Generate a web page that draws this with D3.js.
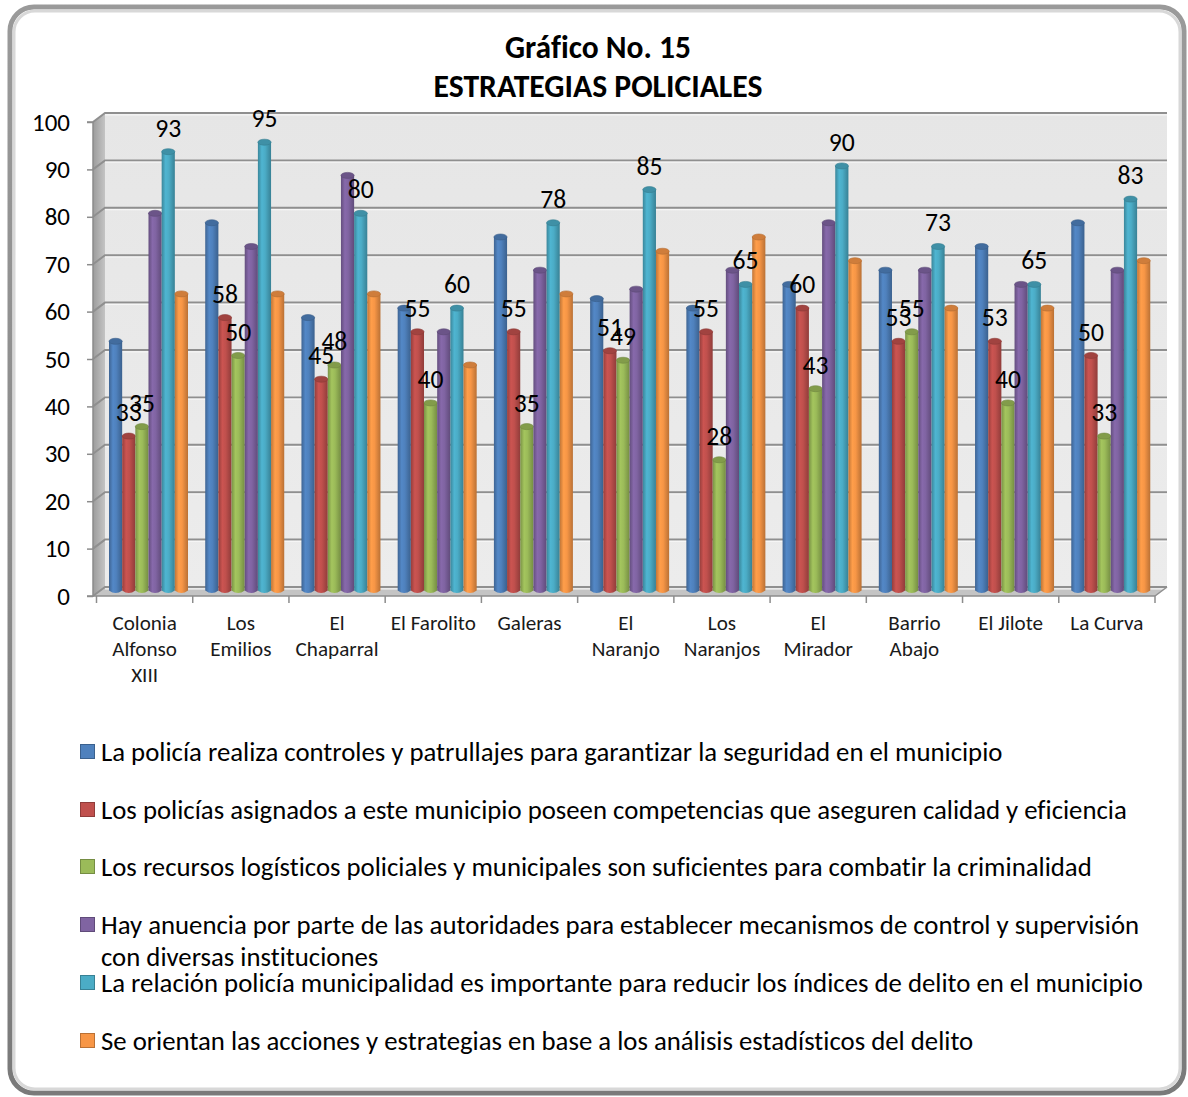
<!DOCTYPE html>
<html><head><meta charset="utf-8">
<script src="https://cdn.jsdelivr.net/npm/d3@7"></script>
<style>body{margin:0;background:#fff} text{font-variant-ligatures:none;font-feature-settings:"liga" 0,"clig" 0}</style></head>
<body>
<svg id="c" width="1188" height="1097"></svg>
<script>
// ---------- DATA ----------
const categories = ["Colonia\nAlfonso\nXIII", "Los\nEmilios", "El\nChaparral", "El Farolito", "Galeras",
  "El\nNaranjo", "Los\nNaranjos", "El\nMirador", "Barrio\nAbajo", "El Jilote", "La Curva"];
const seriesNames = [
  "La policía realiza controles y patrullajes para garantizar la seguridad en el municipio",
  "Los policías asignados a este municipio poseen competencias que aseguren calidad y eficiencia",
  "Los recursos logísticos policiales y municipales son suficientes para combatir la criminalidad",
  "Hay anuencia por parte de las autoridades para establecer mecanismos de control y supervisión\ncon diversas instituciones",
  "La relación policía municipalidad es importante para reducir los índices de delito en el municipio",
  "Se orientan las acciones y estrategias en base a los análisis estadísticos del delito"
];
const controles    = [53, 78, 58, 60, 75, 62, 60, 65, 68, 73, 78];
const competencias = [33, 58, 45, 55, 55, 51, 55, 60, 53, 53, 50];
const recursos     = [35, 50, 48, 40, 35, 49, 28, 43, 55, 40, 33];
const anuencia     = [80, 73, 88, 55, 68, 64, 68, 78, 68, 65, 68];
const relacion     = [93, 95, 80, 60, 78, 85, 65, 90, 73, 65, 83];
const orientan     = [63, 63, 63, 48, 63, 72, 75, 70, 60, 60, 70];
const seriesValues = [controles, competencias, recursos, anuencia, relacion, orientan];
const labeledSeries = [1, 2, 4];
const yTicks = [0, 10, 20, 30, 40, 50, 60, 70, 80, 90, 100];
const titleLines = ["Gráfico No. 15", "ESTRATEGIAS POLICIALES"];
const colors = ["#4F81BD", "#C0504D", "#9BBB59", "#8064A2", "#4BACC6", "#F79646"];

// ---------- SETUP ----------
const FONT = "Carlito, Calibri, Lato, 'Open Sans', sans-serif";
const svg = d3.select("#c");
const defs = svg.append("defs");

function fitSize(text, weight, target, base) {
  const t = svg.append("text").attr("font-family", FONT).attr("font-weight", weight)
    .attr("font-size", base).text(text);
  const w = t.node().getComputedTextLength();
  t.remove();
  return base * target / w;
}

// frame
const fg = defs.append("linearGradient").attr("id", "frameG").attr("x1", 0).attr("y1", 0).attr("x2", 0).attr("y2", 1);
fg.append("stop").attr("offset", 0).attr("stop-color", "#9a9a9a");
fg.append("stop").attr("offset", 1).attr("stop-color", "#7a7a7a");
svg.append("rect").attr("x", 10).attr("y", 7).attr("width", 1174).attr("height", 1086)
  .attr("rx", 24).attr("fill", "#fff").attr("stroke", "url(#frameG)").attr("stroke-width", 5);
svg.append("rect").attr("x", 14).attr("y", 11).attr("width", 1166).attr("height", 1078)
  .attr("rx", 21).attr("fill", "none").attr("stroke", "#d8d8d8").attr("stroke-width", 3);

// scales
const y = d3.scaleLinear().domain([0, 100]).range([596, 122]);
const x = d3.scaleBand().domain(categories).range([96.5, 1155]).padding(0);
const xs = d3.scaleBand().domain(d3.range(6)).range([12.5, 91.5]).padding(0);
const DX = 12, DY = -9;
const x0 = 93, x1 = 1155;

// walls
const lw = defs.append("linearGradient").attr("id", "leftW").attr("x1", 0).attr("x2", 1).attr("y1", 0).attr("y2", 0);
lw.append("stop").attr("offset", 0).attr("stop-color", "#9c9c9c");
lw.append("stop").attr("offset", 1).attr("stop-color", "#c4c4c4");
const bw = defs.append("linearGradient").attr("id", "backW").attr("x1", 0).attr("x2", 0).attr("y1", 0).attr("y2", 1);
bw.append("stop").attr("offset", 0).attr("stop-color", "#e6e6e6");
bw.append("stop").attr("offset", 1).attr("stop-color", "#ececec");

svg.append("polygon").attr("points", [[x0, y(0)], [x0, y(100)], [x0 + DX, y(100) + DY], [x0 + DX, y(0) + DY]].join(" "))
  .attr("fill", "url(#leftW)");
svg.append("rect").attr("x", x0 + DX).attr("y", y(100) + DY).attr("width", x1 - x0)
  .attr("height", y(0) - y(100)).attr("fill", "url(#backW)");
svg.append("polygon").attr("points", [[x0, y(0)], [x1, y(0)], [x1 + DX, y(0) + DY], [x0 + DX, y(0) + DY]].join(" "))
  .attr("fill", "#c4c4c4");

// gridlines
const grid = svg.append("g");
yTicks.forEach(t => {
  grid.append("polyline")
    .attr("points", [[x0, y(t)], [x0 + DX, y(t) + DY], [x1 + DX, y(t) + DY]].join(" "))
    .attr("fill", "none").attr("stroke", "#8f8f8f").attr("stroke-width", 2);
  grid.append("line").attr("x1", x0 + DX).attr("x2", x1 + DX).attr("y1", y(t) + DY + 1.8).attr("y2", y(t) + DY + 1.8)
    .attr("stroke", "#f6f6f6").attr("stroke-width", 1.2);
});
// right edge of floor
svg.append("line").attr("x1", x1).attr("y1", y(0)).attr("x2", x1 + DX).attr("y2", y(0) + DY)
  .attr("stroke", "#8f8f8f").attr("stroke-width", 1.5);

// y axis
const tickFont = fitSize("100", "normal", 38, 22);
const yAxis = d3.axisLeft(y).tickValues(yTicks).tickSize(6).tickPadding(17);
const yg = svg.append("g").attr("transform", `translate(${x0},0)`).call(yAxis);
yg.select(".domain").attr("stroke", "#8c8c8c").attr("stroke-width", 1.5).attr("d", `M-6,${y(100)}H0V${y(0)}H-6`);
yg.selectAll(".tick line").attr("stroke", "#8c8c8c").attr("stroke-width", 1.5);
yg.selectAll(".tick text").attr("font-family", FONT).attr("font-size", tickFont).attr("fill", "#000");

// x axis
const xg = svg.append("g");
xg.append("line").attr("x1", x0).attr("x2", x1).attr("y1", y(0)).attr("y2", y(0))
  .attr("stroke", "#8c8c8c").attr("stroke-width", 1.5);
categories.concat([null]).forEach((c, i) => {
  const xx = c === null ? x1 : x(c);
  xg.append("line").attr("x1", xx).attr("x2", xx).attr("y1", y(0)).attr("y2", y(0) + 7)
    .attr("stroke", "#8c8c8c").attr("stroke-width", 1.5);
});
const catFont = fitSize("Chaparral", "normal", 83, 18);
categories.forEach(c => {
  const lines = c.split("\n");
  const t = xg.append("text").attr("font-family", FONT).attr("font-size", catFont)
    .attr("text-anchor", "middle").attr("fill", "#1a1a1a");
  lines.forEach((ln, k) => {
    t.append("tspan").attr("x", x(c) + x.bandwidth() / 2).attr("y", 623 + k * 26)
      .attr("dominant-baseline", "central").text(ln);
  });
});

// bar gradients
colors.forEach((col, i) => {
  const c = d3.color(col);
  const g = defs.append("linearGradient").attr("id", "cyl" + i).attr("x1", 0).attr("x2", 1).attr("y1", 0).attr("y2", 0);
  g.append("stop").attr("offset", 0).attr("stop-color", c.darker(0.7));
  g.append("stop").attr("offset", 0.3).attr("stop-color", c.brighter(0.15));
  g.append("stop").attr("offset", 0.55).attr("stop-color", col);
  g.append("stop").attr("offset", 1).attr("stop-color", c.darker(0.8));
});

// bars
const BOFF = -3.5;
const bw2 = xs.bandwidth();
const barsG = svg.append("g");
categories.forEach((c, ci) => {
  seriesValues.forEach((vals, si) => {
    const v = vals[ci];
    const bx = x(c) + xs(si);
    const top = y(v) + BOFF, bot = y(0) + BOFF;
    const col = d3.color(colors[si]);
    barsG.append("path")
      .attr("d", `M${bx},${top} L${bx},${bot - 2} Q${bx + bw2 / 2},${bot + 3} ${bx + bw2},${bot - 2} L${bx + bw2},${top} Z`)
      .attr("fill", `url(#cyl${si})`);
    barsG.append("ellipse").attr("cx", bx + bw2 / 2).attr("cy", top).attr("rx", bw2 / 2).attr("ry", 3)
      .attr("fill", col.darker(0.5)).attr("stroke", col.darker(0.9)).attr("stroke-width", 0.6);
  });
});

// data labels
const lblFont = fitSize("93", "normal", 26, 22);
const lblG = svg.append("g");
labeledSeries.forEach(si => {
  categories.forEach((c, ci) => {
    const v = seriesValues[si][ci];
    lblG.append("text").attr("x", x(c) + xs(si) + bw2 / 2).attr("y", y(v) - 27)
      .attr("text-anchor", "middle").attr("dominant-baseline", "central")
      .attr("font-family", FONT).attr("font-size", lblFont).attr("fill", "#000").text(v);
  });
});

// title
titleLines.forEach((t, i) => {
  const target = i === 0 ? 186 : 329;
  const fs = fitSize(t, "bold", target, 26);
  svg.append("text").attr("x", 598).attr("y", i === 0 ? 47 : 86)
    .attr("text-anchor", "middle").attr("dominant-baseline", "central")
    .attr("font-family", FONT).attr("font-weight", "bold").attr("font-size", fs).attr("fill", "#000").text(t);
});

// legend
const legFont = fitSize(seriesNames[0], "normal", 902, 22);
const legY = [752, 810, 867, 925, 983, 1041];
const legG = svg.append("g");
seriesNames.forEach((name, i) => {
  const col = d3.color(colors[i]);
  legG.append("rect").attr("x", 80.5).attr("y", legY[i] - 7.5).attr("width", 14).attr("height", 14)
    .attr("fill", colors[i]).attr("stroke", col.darker(0.8)).attr("stroke-width", 1);
  const lines = name.split("\n");
  lines.forEach((ln, k) => {
    legG.append("text").attr("x", 101).attr("y", legY[i] + k * 32)
      .attr("dominant-baseline", "central").attr("font-family", FONT).attr("font-size", legFont)
      .attr("fill", "#000").text(ln);
  });
});
</script>
</body></html>
